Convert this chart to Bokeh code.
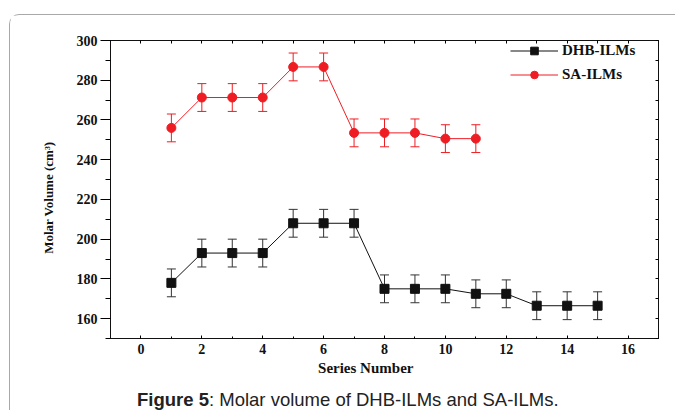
from bokeh.plotting import figure
from bokeh.layouts import column
from bokeh.models import (Range1d, LinearAxis, Whisker, ColumnDataSource, Div,
                          Legend, LegendItem, FixedTicker, TeeHead)
from bokeh.embed import file_html
from bokeh.resources import INLINE

# ---- data ----
dhb_series = [1, 2, 3, 4, 5, 6, 7, 8, 9, 10, 11, 12, 13, 14, 15]
dhb_volume = [178, 193, 193, 193, 208, 208, 208, 175, 175, 175, 172.5, 172.5, 166.5, 166.5, 166.5]
dhb_error = [7, 7, 7, 7, 7, 7, 7, 7, 7, 7, 7, 7, 7, 7, 7]

sa_series = [1, 2, 3, 4, 5, 6, 7, 8, 9, 10, 11]
sa_volume = [256, 271.3, 271.3, 271.3, 286.7, 286.7, 253.5, 253.5, 253.5, 250.6, 250.6]
sa_error = [7, 7, 7, 7, 7, 7, 7, 7, 7, 7, 7]

x_ticks = [0, 2, 4, 6, 8, 10, 12, 14, 16]
y_ticks = [160, 180, 200, 220, 240, 260, 280, 300]

series_names = ["DHB-ILMs", "SA-ILMs"]
x_title = "Series Number"
y_title = "Molar Volume (cm\u00b3)"
caption_bold = "Figure 5"
caption_rest = ": Molar volume of DHB-ILMs and SA-ILMs."

BLACK = "#111111"
RED = "#EE1D23"
SERIF = "Liberation Serif"
NBSP = "\u00a0"

p = figure(width=665, height=374, x_range=Range1d(-1, 17), y_range=Range1d(150, 300),
           output_backend="svg", toolbar_location=None,
           min_border_left=100, min_border_right=17, min_border_top=25, min_border_bottom=51)
p.xgrid.visible = False
p.ygrid.visible = False
p.outline_line_color = BLACK
p.background_fill_color = "white"
p.border_fill_color = "white"

# bottom axis
xa = p.xaxis[0]
xa.ticker = FixedTicker(ticks=x_ticks, minor_ticks=list(range(-1, 18)))
xa.major_tick_in = 3
xa.major_tick_out = 0
xa.minor_tick_in = 2
xa.minor_tick_out = 0
xa.major_label_standoff = 5
xa.major_label_text_font = SERIF
xa.major_label_text_font_style = "bold"
xa.major_label_text_font_size = "14px"
xa.major_label_text_color = BLACK
xa.axis_line_color = BLACK
xa.axis_label = x_title + NBSP * 10
xa.axis_label_standoff = 3
xa.axis_label_text_font = SERIF
xa.axis_label_text_font_style = "bold"
xa.axis_label_text_font_size = "15px"
xa.axis_label_text_color = BLACK

# left axis
ya = p.yaxis[0]
ya.ticker = FixedTicker(ticks=y_ticks, minor_ticks=list(range(150, 301, 10)))
ya.major_tick_in = 0
ya.major_tick_out = 10
ya.minor_tick_in = 0
ya.minor_tick_out = 5
ya.major_label_standoff = 3
ya.major_label_text_font = SERIF
ya.major_label_text_font_style = "bold"
ya.major_label_text_font_size = "14px"
ya.major_label_text_color = BLACK
ya.axis_line_color = BLACK
ya.axis_label = y_title + NBSP * 5
ya.axis_label_standoff = 18
ya.axis_label_text_font = SERIF
ya.axis_label_text_font_style = "bold"
ya.axis_label_text_font_size = "13px"
ya.axis_label_text_color = BLACK

# top and right axes (ticks only, empty labels)
top_ticks = list(range(-1, 18))
right_ticks = list(range(150, 301, 10))
top = LinearAxis(ticker=FixedTicker(ticks=top_ticks), major_tick_in=3, major_tick_out=0,
                 minor_tick_line_color=None, major_label_overrides={t: "" for t in top_ticks},
                 major_label_standoff=0, axis_line_color=BLACK)
right = LinearAxis(ticker=FixedTicker(ticks=right_ticks), major_tick_in=3, major_tick_out=0,
                   minor_tick_line_color=None, major_label_overrides={t: "" for t in right_ticks},
                   major_label_standoff=0, axis_line_color=BLACK)
p.add_layout(top, "above")
p.add_layout(right, "right")

# error bars
dsrc = ColumnDataSource(dict(x=dhb_series, y=dhb_volume,
                             lo=[v - e for v, e in zip(dhb_volume, dhb_error)],
                             hi=[v + e for v, e in zip(dhb_volume, dhb_error)]))
ssrc = ColumnDataSource(dict(x=sa_series, y=sa_volume,
                             lo=[v - e for v, e in zip(sa_volume, sa_error)],
                             hi=[v + e for v, e in zip(sa_volume, sa_error)]))
for src, col in ((dsrc, "#333333"), (ssrc, RED)):
    w = Whisker(source=src, base="x", upper="hi", lower="lo", line_color=col, line_width=1,
                upper_head=TeeHead(size=9, line_color=col, line_width=1),
                lower_head=TeeHead(size=9, line_color=col, line_width=1))
    p.add_layout(w)

l1 = p.line("x", "y", source=dsrc, line_color=BLACK, line_width=1)
s1 = p.scatter("x", "y", source=dsrc, marker="square", size=9, fill_color=BLACK, line_color=BLACK)
l2 = p.line("x", "y", source=ssrc, line_color=RED, line_width=1)
s2 = p.scatter("x", "y", source=ssrc, marker="circle", size=9, fill_color=RED, line_color=RED)

legend = Legend(items=[LegendItem(label=series_names[0], renderers=[l1, s1]),
                       LegendItem(label=series_names[1], renderers=[l2, s2])],
                location=(400, 254), glyph_width=48, glyph_height=19, label_height=19,
                spacing=5, padding=0, margin=0, label_standoff=4,
                border_line_color=None, background_fill_alpha=0,
                label_text_font=SERIF, label_text_font_style="bold",
                label_text_font_size="15px", label_text_color=BLACK)
p.add_layout(legend)

# caption below the chart
caption = Div(text="<b>" + caption_bold + "</b>" + caption_rest, width=530, height=21,
              margin=(0, 0, 0, 127),
              styles={"font-family": "Liberation Sans, Arial, sans-serif", "font-size": "18.5px",
                      "color": "#222222", "line-height": "21px", "white-space": "nowrap"})

layout = column(p, caption, margin=(14, 0, 0, 9),
                styles={"border-top": "1px solid #a8a8a8", "border-left": "1px solid #a8a8a8",
                        "border-top-left-radius": "10px", "background": "white"})

open("out.html", "w").write(file_html(layout, INLINE))
